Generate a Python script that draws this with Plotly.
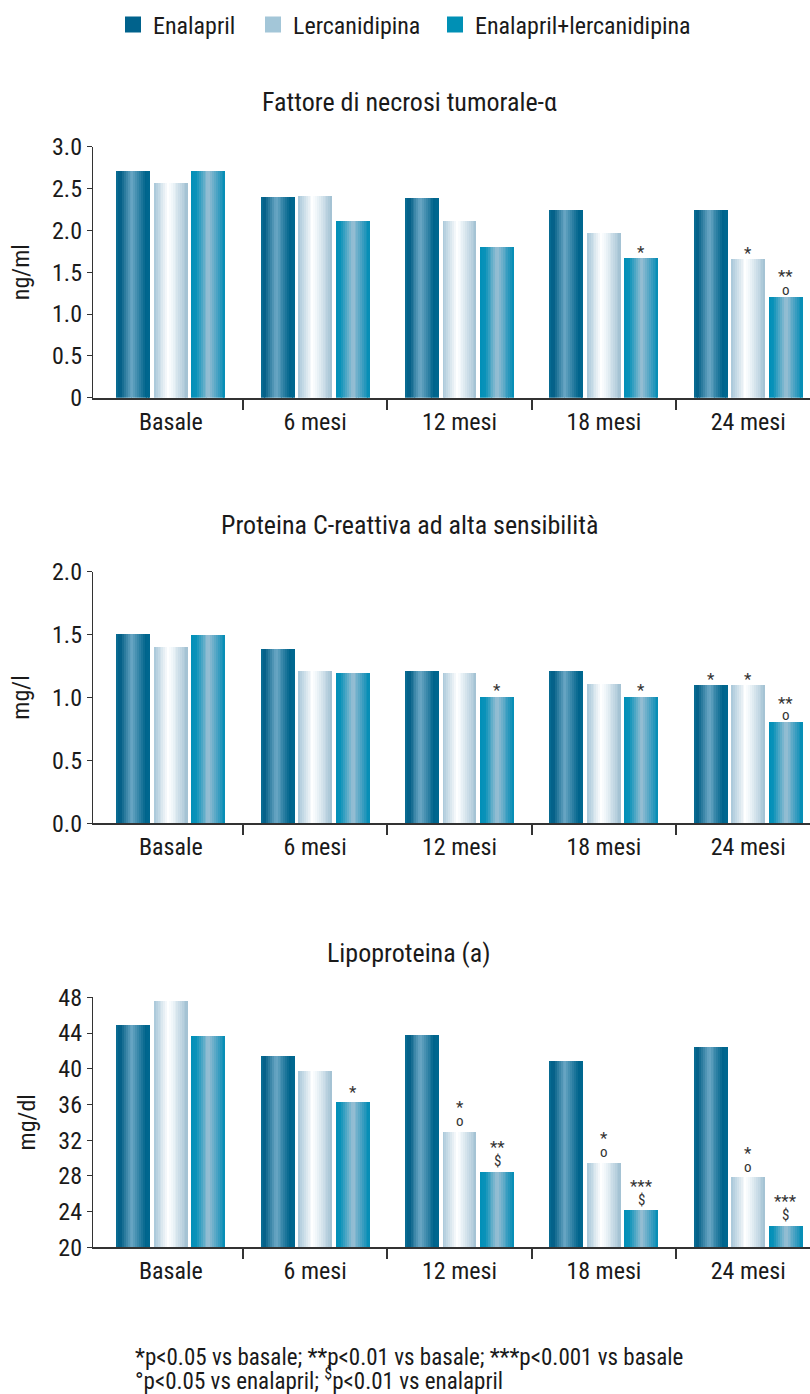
import plotly.graph_objects as go

# ---- data ----
categories = ["Basale", "6 mesi", "12 mesi", "18 mesi", "24 mesi"]
series_names = ["Enalapril", "Lercanidipina", "Enalapril+lercanidipina"]

tnf_enalapril = [2.71, 2.40, 2.39, 2.25, 2.25]
tnf_lercanidipina = [2.57, 2.41, 2.11, 1.97, 1.66]
tnf_combo = [2.71, 2.11, 1.81, 1.67, 1.21]

pcr_enalapril = [1.51, 1.39, 1.21, 1.21, 1.10]
pcr_lercanidipina = [1.40, 1.21, 1.20, 1.11, 1.10]
pcr_combo = [1.50, 1.20, 1.01, 1.01, 0.81]

lpa_enalapril = [44.9, 41.4, 43.7, 40.8, 42.4]
lpa_lercanidipina = [47.5, 39.7, 32.9, 29.4, 27.8]
lpa_combo = [43.6, 36.2, 28.4, 24.1, 22.4]

tnf_tickvals = [0, 0.5, 1.0, 1.5, 2.0, 2.5, 3.0]
tnf_ticktext = ["0", "0.5", "1.0", "1.5", "2.0", "2.5", "3.0"]
pcr_tickvals = [0.0, 0.5, 1.0, 1.5, 2.0]
pcr_ticktext = ["0.0", "0.5", "1.0", "1.5", "2.0"]
lpa_tickvals = [20, 24, 28, 32, 36, 40, 44, 48]
lpa_ticktext = ["20", "24", "28", "32", "36", "40", "44", "48"]

# significance marks: (category index, series index, lower mark, upper mark)
tnf_marks = [(3, 2, "*", None), (4, 1, "*", None), (4, 2, "o", "**")]
pcr_marks = [(2, 2, "*", None), (3, 2, "*", None), (4, 0, "*", None),
             (4, 1, "*", None), (4, 2, "o", "**")]
lpa_marks = [(1, 2, "*", None), (2, 1, "o", "*"), (2, 2, "$", "**"),
             (3, 1, "o", "*"), (3, 2, "$", "***"), (4, 1, "o", "*"),
             (4, 2, "$", "***")]

footnote_lines = [
    "*p<0.05 vs basale; **p<0.01 vs basale; ***p<0.001 vs basale",
    "°p<0.05 vs enalapril; <sup>$</sup>p<0.01 vs enalapril",
]

# ---- styling ----
FONT = "Liberation Sans Narrow, Arial Narrow, Roboto Condensed, DejaVu Sans Condensed, sans-serif"
TEXT = "#1a1a1a"
AXIS = "#333333"
W, H = 810, 1394

legend_colors = ["#00628c", "#a3c6d8", "#0090b5"]
legend_x = [113, 253, 435]
# horizontal shading of each bar (fraction across the bar, colour)
gradients = [
    [(0.0, "#0a6e95"), (0.12, "#005d85"), (0.45, "#6ca8c5"), (0.85, "#00648c"), (1.0, "#006890")],
    [(0.0, "#a6c6d8"), (0.42, "#ffffff"), (0.55, "#eef5f9"), (1.0, "#a0c0d2")],
    [(0.0, "#0090b8"), (0.15, "#0a92b9"), (0.5, "#9cc0d4"), (0.85, "#2a98bd"), (1.0, "#008cb5")],
]
bar_width = 0.235
bar_centers = [-0.26, 0.0, 0.26]
n_slices = 18


def hex_rgb(h):
    h = h.lstrip("#")
    return [int(h[i:i + 2], 16) for i in (0, 2, 4)]


def shade(stops, t):
    for (t0, c0), (t1, c1) in zip(stops[:-1], stops[1:]):
        if t0 <= t <= t1:
            f = (t - t0) / (t1 - t0) if t1 > t0 else 0
            a, b = hex_rgb(c0), hex_rgb(c1)
            r = [round(a[i] + (b[i] - a[i]) * f) for i in range(3)]
            return "rgb(%d,%d,%d)" % tuple(r)
    return stops[-1][1]


panels = [
    dict(values=[tnf_enalapril, tnf_lercanidipina, tnf_combo],
         title="Fattore di necrosi tumorale-α", unit="ng/ml",
         yrange=[0, 3.0], tickvals=tnf_tickvals, ticktext=tnf_ticktext,
         marks=tnf_marks, top=146.7, bottom=397.7, title_y=102,
         shift=(6, 20)),
    dict(values=[pcr_enalapril, pcr_lercanidipina, pcr_combo],
         title="Proteina C-reattiva ad alta sensibilità", unit="mg/l",
         yrange=[0, 2.0], tickvals=pcr_tickvals, ticktext=pcr_ticktext,
         marks=pcr_marks, top=571.7, bottom=823.3, title_y=525,
         shift=(6, 18)),
    dict(values=[lpa_enalapril, lpa_lercanidipina, lpa_combo],
         title="Lipoproteina (a)", unit="mg/dl",
         yrange=[20, 48], tickvals=lpa_tickvals, ticktext=lpa_ticktext,
         marks=lpa_marks, top=997.3, bottom=1247.3, title_y=953,
         shift=(11, 25)),
]

x_positions = list(range(len(categories)))
fig = go.Figure()
annotations = []
layout_axes = {}

for p_i, panel in enumerate(panels):
    sfx = "" if p_i == 0 else str(p_i + 1)
    xref, yref = "x" + sfx, "y" + sfx
    for s_i, vals in enumerate(panel["values"]):
        step = bar_width / n_slices
        for k in range(n_slices):
            t = (k + 0.5) / n_slices
            fig.add_trace(go.Bar(
                x=x_positions, y=vals,
                offset=bar_centers[s_i] - bar_width / 2 + k * step,
                width=step * (1.0 if k == n_slices - 1 else 1.08),
                marker=dict(color=shade(gradients[s_i], t), line=dict(width=0)),
                xaxis=xref, yaxis=yref, showlegend=False, hoverinfo="skip",
            ))
    # significance marks above bars
    lo, hi = panel["shift"]
    for cat, ser, lower, upper in panel["marks"]:
        xv = cat + bar_centers[ser]
        yv = panel["values"][ser][cat]
        for txt, sh in ((lower, lo), (upper, hi)):
            if txt is None:
                continue
            size = 15 if txt == "o" else (15 if txt == "$" else 17)
            annotations.append(dict(
                x=xv, y=yv, xref=xref, yref=yref, text=txt, showarrow=False,
                yanchor="middle", xanchor="center", yshift=sh,
                font=dict(family=FONT, size=size, color="#333333")))
    # panel title
    annotations.append(dict(
        x=409 / W, y=1 - panel["title_y"] / H, xref="paper", yref="paper",
        text=panel["title"], showarrow=False, xanchor="center", yanchor="middle",
        font=dict(family=FONT, size=26, color=TEXT)))

    dom = [1 - panel["bottom"] / H, 1 - panel["top"] / H]
    layout_axes["xaxis" + sfx] = dict(
        domain=[93 / W, 1.0], anchor=yref, range=[-0.539, 4.428],
        automargin=False,
        tickmode="array", tickvals=x_positions, ticktext=categories,
        ticks="outside", ticklen=1, tickcolor="rgba(0,0,0,0)",
        minor=dict(tickmode="array", tickvals=[0.5, 1.5, 2.5, 3.5],
                   ticks="outside", ticklen=10, tickwidth=1.5, tickcolor=AXIS),
        showline=True, linecolor=AXIS, linewidth=2, showgrid=False,
        zeroline=False, fixedrange=True,
        tickfont=dict(family=FONT, size=24, color=TEXT))
    layout_axes["yaxis" + sfx] = dict(
        domain=dom, anchor=xref, range=panel["yrange"],
        automargin=False,
        tickmode="array", tickvals=panel["tickvals"], ticktext=panel["ticktext"],
        ticks="outside", ticklen=5, tickwidth=1.3, tickcolor=AXIS,
        showline=True, linecolor=AXIS, linewidth=1.3, showgrid=False,
        zeroline=False, fixedrange=True,
        title=dict(text=panel["unit"], standoff=15,
                   font=dict(family=FONT, size=24, color=TEXT)),
        tickfont=dict(family=FONT, size=24, color=TEXT))

# legend entries with solid swatches, each in its own legend box
legend_layout = {}
for i, (name, col) in enumerate(zip(series_names, legend_colors)):
    lname = "legend" if i == 0 else "legend%d" % (i + 1)
    fig.add_trace(go.Scatter(
        x=[None], y=[None], mode="markers", name=name, legend=lname,
        marker=dict(symbol="square", size=16, color=col),
        xaxis="x", yaxis="y"))
    legend_layout[lname] = dict(
        orientation="h", x=legend_x[i] / W, y=1 - 25 / H, xanchor="left",
        yanchor="middle", font=dict(family=FONT, size=24, color=TEXT),
        itemsizing="trace", bgcolor="rgba(0,0,0,0)")

# footnote
for line, ly in zip(footnote_lines, [1357, 1379]):
    annotations.append(dict(
        x=133 / W, y=1 - ly / H, xref="paper", yref="paper", showarrow=False,
        xanchor="left", yanchor="middle", align="left", text=line,
        font=dict(family=FONT, size=23, color=TEXT)))

fig.update_layout(
    width=W, height=H, margin=dict(l=0, r=0, t=0, b=0, autoexpand=False),
    paper_bgcolor="white", plot_bgcolor="white",
    barmode="overlay", bargap=0,
    showlegend=True,
    annotations=annotations,
    **legend_layout,
    **layout_axes,
)

fig.write_html("out.html")
